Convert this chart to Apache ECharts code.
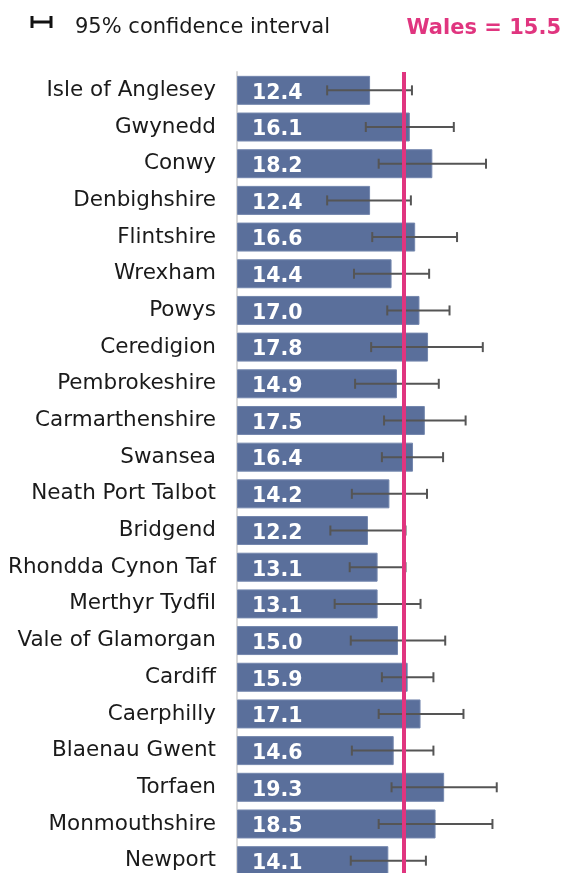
<!DOCTYPE html>
<html><head><meta charset="utf-8">
<script src="https://cdn.jsdelivr.net/npm/echarts@6/dist/echarts.min.js"></script>
<style>html,body{margin:0;padding:0;background:#fff;overflow:hidden}#c{width:565px;height:890px}</style>
</head><body><div id="c"></div>
<script>
const categories = ["Isle of Anglesey","Gwynedd","Conwy","Denbighshire","Flintshire","Wrexham","Powys","Ceredigion","Pembrokeshire","Carmarthenshire","Swansea","Neath Port Talbot","Bridgend","Rhondda Cynon Taf","Merthyr Tydfil","Vale of Glamorgan","Cardiff","Caerphilly","Blaenau Gwent","Torfaen","Monmouthshire","Newport"];
const values = [12.4,16.1,18.2,12.4,16.6,14.4,17.0,17.8,14.9,17.5,16.4,14.2,12.2,13.1,13.1,15.0,15.9,17.1,14.6,19.3,18.5,14.1];
const ciLow  = [8.4,12.0,13.2,8.4,12.6,10.9,14.0,12.5,11.0,13.7,13.5,10.7,8.7,10.5,9.1,10.6,13.5,13.2,10.7,14.4,13.2,10.6];
const ciHigh = [16.3,20.2,23.2,16.2,20.5,17.9,19.8,22.9,18.8,21.3,19.2,17.7,15.7,15.7,17.1,19.4,18.3,21.1,18.3,24.2,23.8,17.6];
const walesValue = 15.5;

const FONT = 'DejaVu Sans';
const chart = echarts.init(document.getElementById('c'));
chart.setOption({
  animation: false,
  textStyle: { fontFamily: FONT },
  grid: { left: 237, right: 6, top: 72, height: 807, containLabel: false },
  xAxis: { type: 'value', min: 0, max: 30, show: false },
  yAxis: {
    type: 'category', data: categories, inverse: true,
    axisLine: { show: true, lineStyle: { color: '#d9d9d9', width: 2 } },
    axisTick: { show: false },
    axisLabel: { color: '#1a1a1a', fontSize: 21.5, fontFamily: FONT, margin: 21, padding: [4, 0, 0, 0] }
  },
  graphic: [
    { type: 'line', shape: { x1: 31, y1: 22, x2: 52, y2: 22 }, style: { stroke: '#111', lineWidth: 3 } },
    { type: 'line', shape: { x1: 32, y1: 16, x2: 32, y2: 28 }, style: { stroke: '#111', lineWidth: 3 } },
    { type: 'line', shape: { x1: 51, y1: 16, x2: 51, y2: 28 }, style: { stroke: '#111', lineWidth: 3 } },
    { type: 'text', left: 75, top: 17, style: { text: '95% confidence interval', font: '21px "DejaVu Sans"', fill: '#1a1a1a' } },
    { type: 'text', right: 4, top: 18, style: { text: 'Wales = ' + walesValue.toFixed(1), font: 'bold 21px "DejaVu Sans"', fill: '#e0357f' } }
  ],
  series: [
    {
      type: 'bar', data: values, barCategoryGap: '21%',
      itemStyle: { color: '#5a6f9b', borderColor: '#7487ae', borderWidth: 1 },
      label: { show: true, position: 'insideLeft', distance: 15, offset: [0, 3], color: '#fff', fontSize: 20.5, fontWeight: 'bold', fontFamily: FONT,
        formatter: p => p.value.toFixed(1) },
      z: 2
    },
    {
      type: 'custom', z: 3,
      data: categories.map((c, i) => [i, ciLow[i], ciHigh[i]]),
      encode: { y: 0, x: [1, 2] },
      renderItem: (params, api) => {
        const i = api.value(0);
        const lo = api.coord([api.value(1), i]);
        const hi = api.coord([api.value(2), i]);
        const h = 5;
        const st = { stroke: '#555', lineWidth: 2 };
        return { type: 'group', children: [
          { type: 'line', shape: { x1: lo[0], y1: lo[1], x2: hi[0], y2: hi[1] }, style: st },
          { type: 'line', shape: { x1: lo[0], y1: lo[1] - h, x2: lo[0], y2: lo[1] + h }, style: st },
          { type: 'line', shape: { x1: hi[0], y1: hi[1] - h, x2: hi[0], y2: hi[1] + h }, style: st }
        ]};
      }
    },
    {
      type: 'line', data: [], z: 5,
      markLine: { silent: true, symbol: 'none', label: { show: false },
        lineStyle: { color: '#e0357f', width: 4, type: 'solid' },
        data: [{ xAxis: walesValue }] }
    }
  ]
});
</script></body></html>
